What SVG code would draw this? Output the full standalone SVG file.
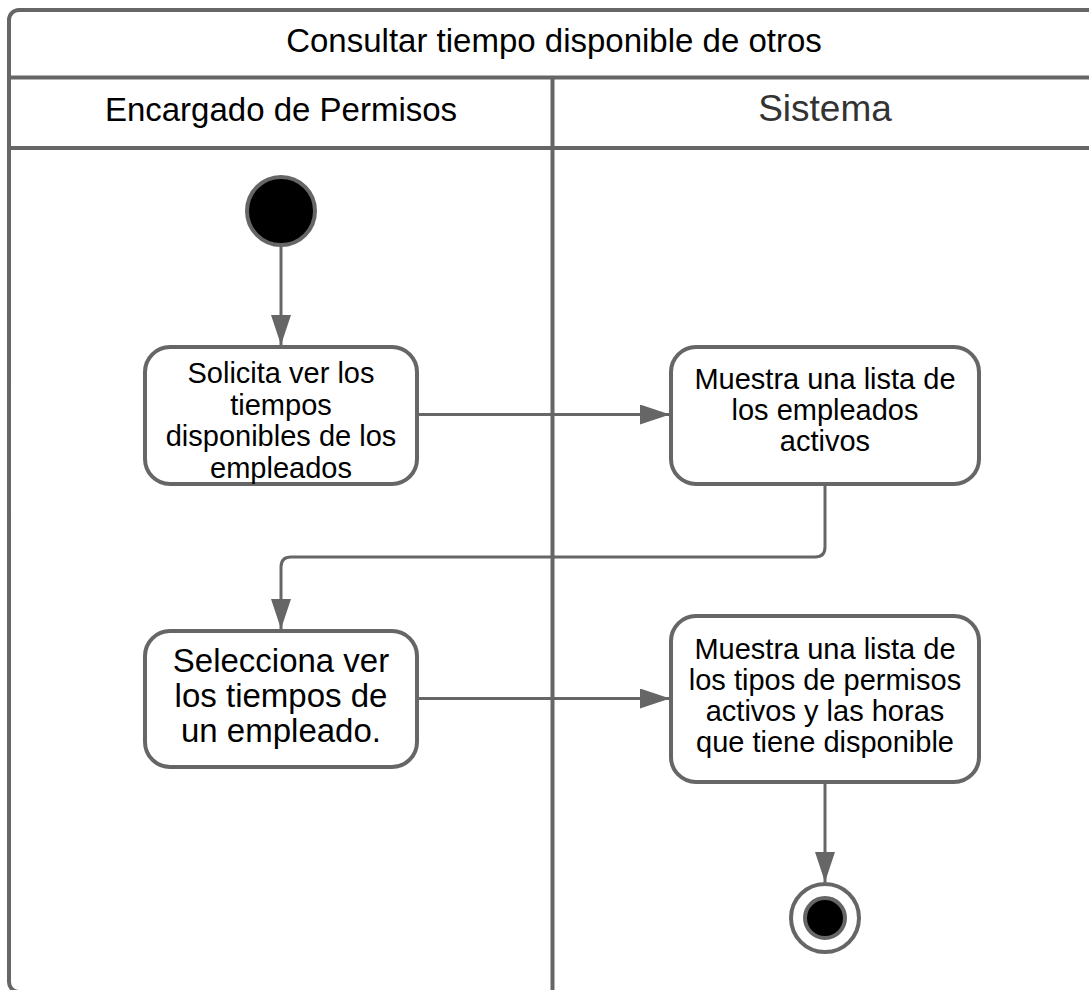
<svg xmlns="http://www.w3.org/2000/svg" width="1089" height="990" viewBox="0 0 1089 990">
<defs>
<style>
.frame{fill:none;stroke:#666666;stroke-width:4}
.box{fill:#ffffff;stroke:#666666;stroke-width:4}
.conn{fill:none;stroke:#666666;stroke-width:3}
.t{font-family:"Liberation Sans",Arial,sans-serif;fill:#000000;text-anchor:middle}
.h{font-size:33px}
.n{font-size:29px}
.n3{font-size:33px}
</style>
<marker id="arr" markerWidth="30" markerHeight="20" refX="30" refY="10" orient="auto" markerUnits="userSpaceOnUse">
<path d="M0,0 L30,10 L0,20 Z" fill="#666666"/>
</marker>
</defs>
<rect width="1089" height="990" fill="#ffffff"/>
<g id="pool">
<rect class="frame" x="9" y="10" width="1090" height="982" rx="10" ry="10"/>
<line class="frame" x1="9" y1="77.5" x2="1099" y2="77.5"/>
<line class="frame" x1="9" y1="148" x2="1099" y2="148"/>
<line class="frame" x1="552.5" y1="77.5" x2="552.5" y2="992"/>
<text class="t h" x="554" y="52">Consultar tiempo disponible de otros</text>
<text class="t h" x="281" y="121">Encargado de Permisos</text>
<text class="t" x="825" y="121" style="font-size:37px;fill:#333333">Sistema</text>
</g>
<g id="connectors">
<line class="conn" x1="281" y1="247" x2="281" y2="345" marker-end="url(#arr)"/>
<line class="conn" x1="418" y1="414.5" x2="670" y2="414.5" marker-end="url(#arr)"/>
<path class="conn" d="M825,484 L825,547 Q825,557 815,557 L291,557 Q281,557 281,567 L281,629" marker-end="url(#arr)"/>
<line class="conn" x1="418" y1="698.5" x2="670" y2="698.5" marker-end="url(#arr)"/>
<line class="conn" x1="825" y1="783" x2="825" y2="882" marker-end="url(#arr)"/>
</g>
<g id="start">
<circle cx="281" cy="211" r="34" fill="#000000" stroke="#666666" stroke-width="4"/>
</g>
<g id="n1">
<rect class="box" x="145" y="347" width="272" height="137" rx="25" ry="25"/>
<text class="t n" x="281" y="383">Solicita ver los</text>
<text class="t n" x="281" y="414.5">tiempos</text>
<text class="t n" x="281" y="446">disponibles de los</text>
<text class="t n" x="281" y="477.5">empleados</text>
</g>
<g id="n2">
<rect class="box" x="671" y="347" width="308" height="137" rx="25" ry="25"/>
<text class="t n" x="825" y="389">Muestra una lista de</text>
<text class="t n" x="825" y="420">los empleados</text>
<text class="t n" x="825" y="451">activos</text>
</g>
<g id="n3">
<rect class="box" x="145" y="631" width="272" height="136" rx="25" ry="25"/>
<text class="t n3" x="281" y="672">Selecciona ver</text>
<text class="t n3" x="281" y="707">los tiempos de</text>
<text class="t n3" x="281" y="742">un empleado.</text>
</g>
<g id="n4">
<rect class="box" x="671" y="616" width="308" height="166" rx="25" ry="25"/>
<text class="t n" x="825" y="659">Muestra una lista de</text>
<text class="t n" x="825" y="690">los tipos de permisos</text>
<text class="t n" x="825" y="720.5">activos y las horas</text>
<text class="t n" x="825" y="751.5">que tiene disponible</text>
</g>
<g id="end">
<circle cx="825" cy="918" r="34" fill="#ffffff" stroke="#666666" stroke-width="4"/>
<circle cx="825" cy="918" r="20" fill="#000000" stroke="#666666" stroke-width="4"/>
</g>
</svg>
